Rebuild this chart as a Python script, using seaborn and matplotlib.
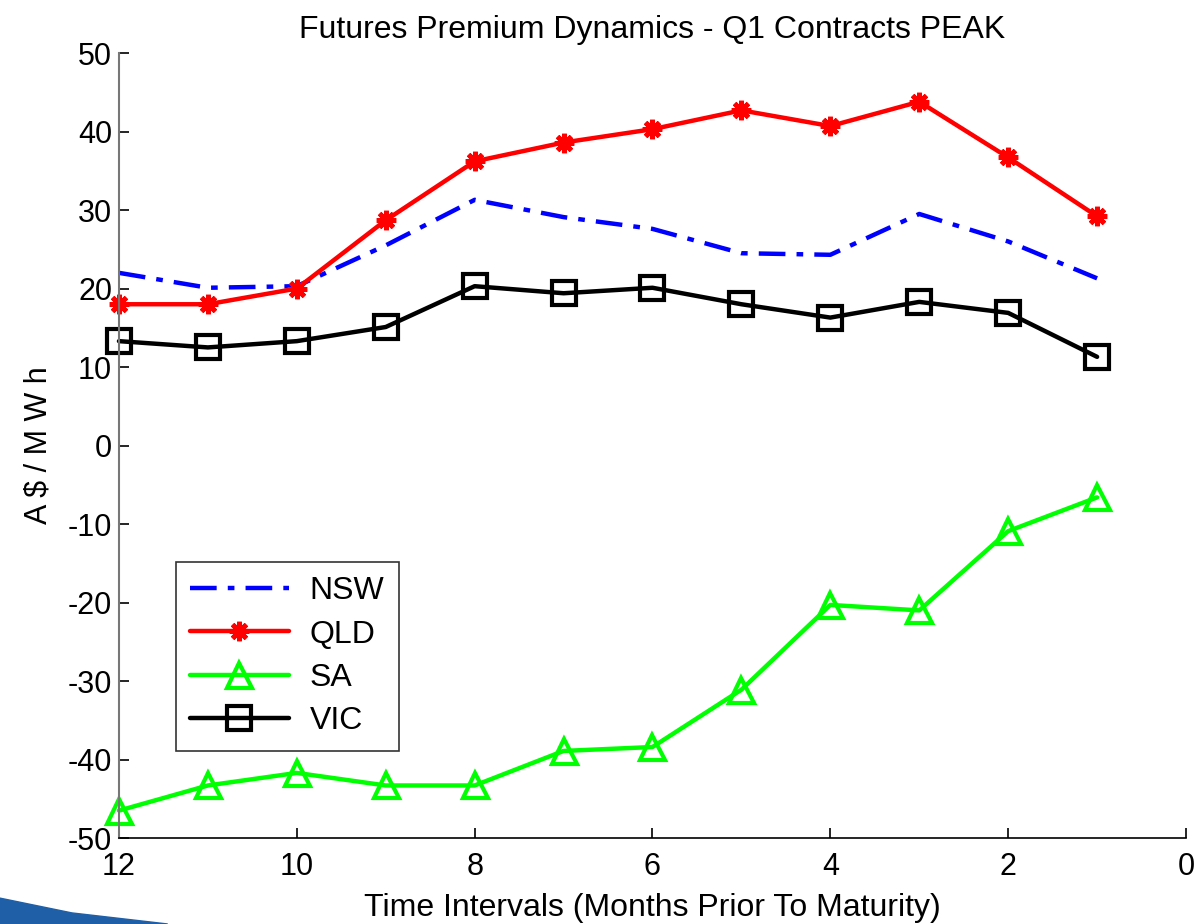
import numpy as np
import pandas as pd
import matplotlib
matplotlib.use('Agg')
import matplotlib.pyplot as plt
from matplotlib.patches import Polygon
import seaborn as sns

# months prior to maturity
months = [12, 11, 10, 9, 8, 7, 6, 5, 4, 3, 2, 1]

nsw = [22.0, 20.1, 20.3, 25.5, 31.3, 29.1, 27.6, 24.5, 24.3, 29.5, 26.0, 21.3]
qld = [18.0, 18.0, 20.0, 28.7, 36.2, 38.6, 40.3, 42.7, 40.7, 43.8, 36.7, 29.2]
sa = [-46.5, -43.3, -41.7, -43.3, -43.3, -38.9, -38.4, -31.1, -20.3, -21.0, -10.9, -6.6]
vic = [13.3, 12.5, 13.3, 15.1, 20.3, 19.4, 20.1, 18.0, 16.3, 18.3, 16.9, 11.3]

regions = ["NSW", "QLD", "SA", "VIC"]
x_ticks = [12, 10, 8, 6, 4, 2, 0]
y_ticks = [-50, -40, -30, -20, -10, 0, 10, 20, 30, 40, 50]

sns.set_style("white")
plt.rcParams['font.family'] = ['Liberation Sans', 'DejaVu Sans']
plt.rcParams['axes.unicode_minus'] = False
plt.rcParams['text.color'] = 'black'
plt.rcParams['axes.labelcolor'] = 'black'

df = pd.DataFrame({
    "month": months * 4,
    "value": nsw + qld + sa + vic,
    "region": [r for r in regions for _ in months],
})

fig = plt.figure(figsize=(11.98, 9.24), dpi=100)
ax = fig.add_axes([0.0993, 0.093, 0.8907, 0.8496])

styles = {
    "NSW": dict(color='#0000ff', linestyle=(0, (6, 2.5, 1.5, 2.5)), marker=None),
    "QLD": dict(color='#ff0000', linestyle='-', marker=(8, 2, 0), markersize=14,
                markeredgewidth=3.5, markeredgecolor='#ff0000'),
    "SA": dict(color='#00ff00', linestyle='-', marker='^', markersize=18,
               markerfacecolor='none', markeredgewidth=3, markeredgecolor='#00ff00'),
    "VIC": dict(color='black', linestyle='-', marker='s', markersize=17,
                markerfacecolor='none', markeredgewidth=3, markeredgecolor='black'),
}

for reg in regions:
    st = dict(styles[reg])
    sub = df[df.region == reg]
    sns.lineplot(data=sub, x="month", y="value", ax=ax, label=reg,
                 linewidth=3.2, estimator=None, sort=False, clip_on=False, **st)

ax.set_xlim(12, 0)
ax.set_ylim(-50, 50)
ax.set_xticks(x_ticks)
ax.set_yticks(y_ticks)
ax.tick_params(bottom=True, left=True, direction='in', length=7, width=1.2,
               labelsize=22, colors='black')
ax.tick_params(axis='x', pad=10)
ax.tick_params(axis='y', pad=5)
for s in ['top', 'right']:
    ax.spines[s].set_visible(False)
ax.spines['left'].set_color('#777777')
ax.spines['left'].set_linewidth(1.5)
ax.spines['bottom'].set_color('black')
ax.spines['bottom'].set_linewidth(1.2)
ax.patch.set_alpha(0)

ax.set_title('Futures Premium Dynamics - Q1 Contracts PEAK', fontsize=23, pad=11)
ax.set_xlabel('Time Intervals (Months Prior To Maturity)', fontsize=23, labelpad=8)
ax.set_ylabel('A $ / M W h', fontsize=22, labelpad=10)

leg = ax.legend(loc='upper left', bbox_to_anchor=(0.053, 0.352), fontsize=23,
                frameon=True, fancybox=False, borderpad=0.45, handlelength=3.1,
                labelspacing=0.42, handletextpad=0.65, borderaxespad=0)
leg.get_frame().set_edgecolor('black')
leg.get_frame().set_linewidth(1.2)

# blue swoosh decoration at bottom-left
swoosh = Polygon([[0.0, 0.0], [0.0, 0.028], [0.06, 0.012], [0.14, 0.0]],
                 closed=True, transform=fig.transFigure, color='#1f5fa8', zorder=0)
fig.patches.append(swoosh)

fig.savefig('out.png', dpi=100)
